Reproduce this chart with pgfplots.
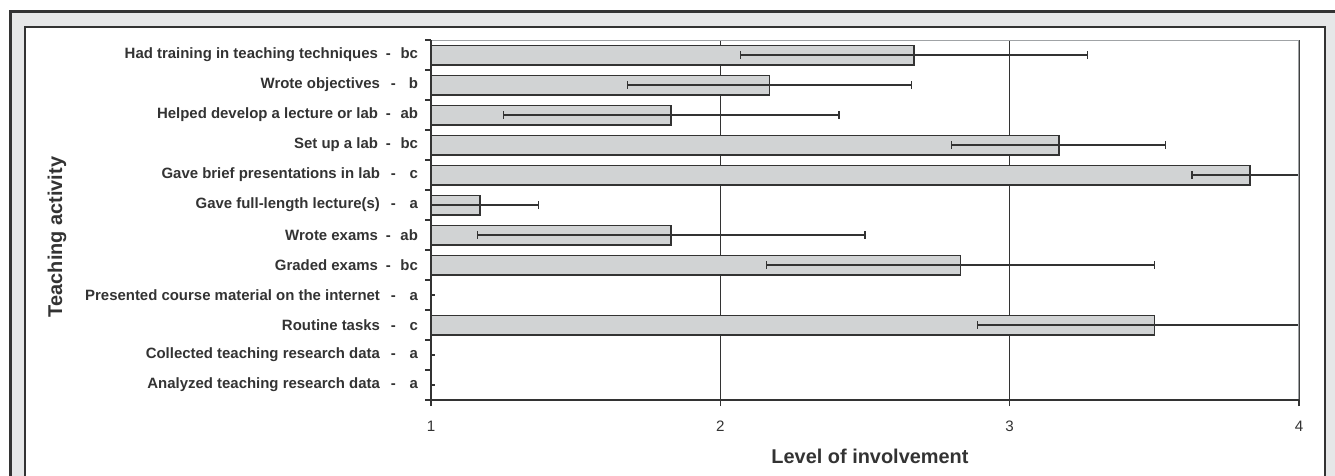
\documentclass[border=0pt]{standalone}
\usepackage{fontspec}
\setmainfont{Liberation Sans}
\usepackage{pgfplots}
\usepackage{pgfplotstable}
\pgfplotsset{compat=1.18}
\definecolor{barfill}{RGB}{209,211,212}
\definecolor{darkline}{RGB}{51,51,51}
\definecolor{bordergray}{RGB}{160,163,166}
\definecolor{bandgray}{RGB}{230,231,232}
\newcommand{\lab}[2]{#1\hspace{4bp}-\makebox[13.5bp][r]{#2}}
\newcommand{\labs}[2]{#1\hspace{5.5bp}-\makebox[11bp][r]{#2}}
\pgfplotstableread{
y x err
1 2.67 0.60
2 2.17 0.49
3 1.83 0.58
4 3.17 0.37
5 3.83 0.20
6 1.17 0.20
7 1.83 0.67
8 2.83 0.67
9 1.00 0
10 3.50 0.61
11 1.00 0
12 1.00 0
}\data
\begin{document}
\begin{tikzpicture}
% frames
\draw[line width=1.5bp, draw=darkline, fill=bandgray] (5.25bp,-20bp) rectangle (700bp,232bp);
\draw[line width=1bp, draw=darkline, fill=white] (12.5bp,-20bp) rectangle (662.5bp,224.5bp);
\begin{axis}[
  at={(215.5bp,38bp)}, anchor=south west,
  scale only axis, width=434bp, height=180bp,
  xbar, bar width=9.8bp,
  xmin=1, xmax=4, ymin=0.5, ymax=12.5, y dir=reverse,
  xtick={1,2,3,4},
  ytick={1,...,12},
  yticklabels={
    \lab{Had training in teaching techniques}{bc},
    \labs{Wrote objectives}{b},
    \lab{Helped develop a lecture or lab}{ab},
    \lab{Set up a lab}{bc},
    \labs{Gave brief presentations in lab}{c},
    \labs{Gave full-length lecture(s)}{a},
    \lab{Wrote exams}{ab},
    \lab{Graded exams}{bc},
    \labs{Presented course material on the internet}{a},
    \labs{Routine tasks}{c},
    \labs{Collected teaching research data}{a},
    \labs{Analyzed teaching research data}{a}},
  minor ytick={0.5,1.5,...,12.5},
  xtick pos=bottom, ytick pos=left,
  tick align=outside,
  major tick length=3bp, minor tick length=3bp,
  every major y tick/.append style={draw=none},
  every tick/.append style={darkline, line width=0.6bp},
  axis line style={draw=none},
  xmajorgrids,
  major x grid style={draw=darkline, line width=0.65bp},
  /pgf/number format/assume math mode=true,
  xticklabel style={font=\fontsize{7.6}{9}\selectfont, text=darkline, yshift=-4bp},
  yticklabel style={font=\bfseries\fontsize{7.5}{9}\selectfont, text=darkline, anchor=east},
  xlabel={Level of involvement},
  ylabel={Teaching activity},
  xlabel style={font=\bfseries\fontsize{10}{12}\selectfont, text=darkline, at={(axis description cs:0.5,0)}, anchor=center, yshift=-28bp, xshift=2.5bp},
  ylabel style={font=\bfseries\fontsize{10}{12}\selectfont, text=darkline, at={(axis description cs:-0.4309,0.453)}, anchor=center},
]
\addplot[fill=barfill, draw=darkline, line width=0.7bp,
  error bars/.cd, x dir=both, x explicit,
  error bar style={line width=0.55bp, draw=darkline},
  error mark options={rotate=90, mark size=1.9bp, line width=0.55bp, draw=darkline}]
  table[x=x, y=y, x error=err] {\data};
\draw[bordergray, line width=0.8bp] (axis description cs:0,1) -- (axis description cs:1,1) -- (axis description cs:1,0);
\draw[darkline, line width=0.7bp] (axis description cs:0,1) -- (axis description cs:0,0) -- (axis description cs:1,0);
\end{axis}
\pgfresetboundingbox
\useasboundingbox (0,0) rectangle (667.5bp,238bp);
\end{tikzpicture}
\end{document}
